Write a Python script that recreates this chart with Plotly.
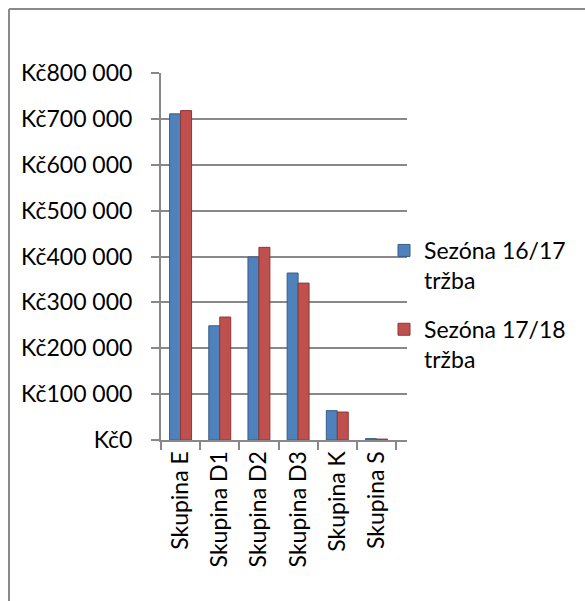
import plotly.graph_objects as go

# Revenue per group for two seasons (CZK)
categories = ["Skupina E", "Skupina D1", "Skupina D2", "Skupina D3", "Skupina K", "Skupina S"]
season_1617 = [711000, 249000, 399000, 364000, 64000, 3000]
season_1718 = [718000, 268000, 420000, 342000, 61000, 2000]
tick_values = [0, 100000, 200000, 300000, 400000, 500000, 600000, 700000, 800000]
tick_labels = ["Kč0", "Kč100 000", "Kč200 000", "Kč300 000", "Kč400 000",
               "Kč500 000", "Kč600 000", "Kč700 000", "Kč800 000"]

W, H = 585, 601
L, R, T, B = 161, 178, 73, 161
pw, ph = W - L - R, H - T - B


def px(x):
    return (x - L) / pw


def py(y):
    return (H - B - y) / ph


fig = go.Figure()

fig.add_trace(go.Bar(
    x=categories, y=season_1617,
    name="Sezóna 16/17<br>tržba", legendgroup="a",
    marker=dict(color="#4F81BD", line=dict(color="#385D8A", width=1))
))
fig.add_trace(go.Bar(
    x=categories, y=season_1718,
    name="Sezóna 17/18<br>tržba", legendgroup="b",
    marker=dict(color="#C0504D", line=dict(color="#8C3836", width=1))
))

font = dict(family="Lato, Open Sans, sans-serif", size=23, color="#000000")

fig.update_layout(
    width=W, height=H,
    margin=dict(l=L, r=R, t=T, b=B, pad=0),
    paper_bgcolor="white", plot_bgcolor="white",
    barmode="group", bargap=0.44, bargroupgap=0,
    font=font,
    showlegend=True,
    legend=dict(x=px(384), y=py(229), xanchor="left", yanchor="top",
                font=font, tracegroupgap=16, itemwidth=30, valign="top",
                bgcolor="rgba(0,0,0,0)"),
    xaxis=dict(
        range=[-0.5, 5.78], tickangle=-90, tickson="boundaries",
        ticks="outside", ticklen=8, tickcolor="#888888", tickwidth=2,
        showline=True, linecolor="#888888", linewidth=2,
        showgrid=False, tickfont=font, fixedrange=True
    ),
    yaxis=dict(
        range=[0, 800000], tickvals=tick_values, ticktext=tick_labels,
        ticks="outside", ticklen=8, tickcolor="#888888", tickwidth=2,
        ticklabelstandoff=14,
        showline=True, linecolor="#888888", linewidth=2,
        showgrid=True, gridcolor="#888888", gridwidth=2,
        zeroline=False, tickfont=font, fixedrange=True
    ),
    shapes=[
        dict(type="line", xref="paper", yref="paper",
             x0=px(9), x1=px(600), y0=py(9), y1=py(9),
             line=dict(color="#8a8a8a", width=2)),
        dict(type="line", xref="paper", yref="paper",
             x0=px(9), x1=px(9), y0=py(9), y1=py(620),
             line=dict(color="#8a8a8a", width=2)),
    ],
)

fig.write_html("out.html", config={"displayModeBar": False},
               post_script="document.body.style.margin='0';")
